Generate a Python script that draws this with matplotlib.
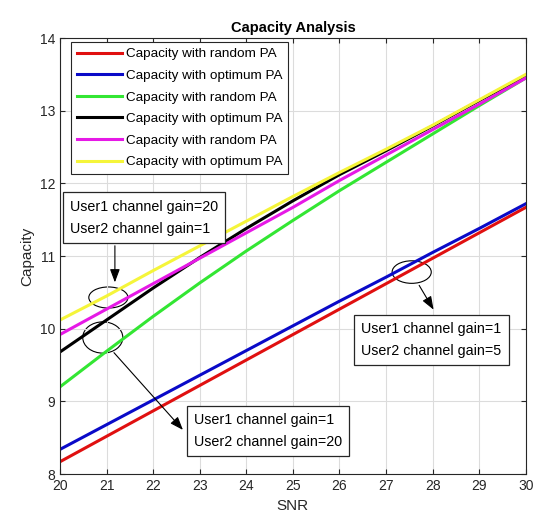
import numpy as np
import matplotlib.pyplot as plt
from matplotlib.patches import Ellipse

plt.rcParams['font.family'] = ['Liberation Sans', 'DejaVu Sans']

snr = [20, 21, 22, 23, 24, 25, 26, 27, 28, 29, 30]

# user1 gain=1, user2 gain=5
cap_rand_a = [8.17, 8.52, 8.87, 9.22, 9.57, 9.92, 10.27, 10.62, 10.97, 11.32, 11.67]
cap_opt_a = [8.34, 8.68, 9.02, 9.36, 9.70, 10.04, 10.38, 10.71, 11.05, 11.38, 11.72]
# user1 gain=1, user2 gain=20
cap_rand_b = [9.20, 9.69, 10.17, 10.63, 11.07, 11.49, 11.90, 12.29, 12.68, 13.07, 13.45]
cap_opt_b = [9.68, 10.12, 10.56, 10.98, 11.38, 11.76, 12.12, 12.45, 12.79, 13.14, 13.48]
# user1 gain=20, user2 gain=1
cap_rand_c = [9.92, 10.27, 10.62, 10.97, 11.32, 11.67, 12.04, 12.39, 12.74, 13.09, 13.45]
cap_opt_c = [10.12, 10.45, 10.80, 11.14, 11.48, 11.82, 12.15, 12.47, 12.80, 13.15, 13.50]

series = [
    (cap_rand_a, '#e01010', 'Capacity with random PA'),
    (cap_opt_a, '#0a0ac8', 'Capacity with optimum PA'),
    (cap_rand_b, '#33e633', 'Capacity with random PA'),
    (cap_opt_b, 'black', 'Capacity with optimum PA'),
    (cap_rand_c, '#e619e6', 'Capacity with random PA'),
    (cap_opt_c, '#f5f53a', 'Capacity with optimum PA'),
]

fig = plt.figure(figsize=(5.6, 5.28), dpi=100)
ax = fig.add_axes([0.107, 0.102, 0.832, 0.826])

for vals, col, lab in series:
    ax.plot(snr, vals, color=col, linewidth=2.2, label=lab)

ax.set_xlim(20, 30)
ax.set_ylim(8, 14)
ax.set_xticks(np.arange(20, 31, 1))
ax.set_yticks(np.arange(8, 15, 1))
ax.grid(True, color='#dcdcdc', linewidth=0.8)
ax.tick_params(direction='in', top=True, right=True, labelsize=10, colors='#262626')
for s in ax.spines.values():
    s.set_color('#262626')
    s.set_linewidth(0.8)

ax.set_title('Capacity Analysis', fontsize=10.5, fontweight='bold', pad=4)
ax.set_xlabel('SNR', fontsize=11, color='#262626')
ax.set_ylabel('Capacity', fontsize=11, color='#262626')

leg = ax.legend(loc='upper left', bbox_to_anchor=(0.024, 0.991), borderaxespad=0,
                fontsize=9.7, frameon=True, fancybox=False, framealpha=1,
                edgecolor='#262626', handlelength=3.3, handletextpad=0.3,
                labelspacing=0.68, borderpad=0.45)
leg.get_frame().set_linewidth(0.8)

# ellipses marking curve groups
for cx, cy, w, h in [(21.04, 10.43, 0.84, 0.29), (20.92, 9.88, 0.86, 0.43),
                     (27.55, 10.78, 0.84, 0.31)]:
    ax.add_patch(Ellipse((cx, cy), w, h, fill=False, edgecolor='black', linewidth=0.8))

box = dict(boxstyle='square,pad=0.5', facecolor='white', edgecolor='#262626', linewidth=0.9)
arrow = dict(arrowstyle='-|>,head_length=0.8,head_width=0.3', color='black', linewidth=0.8)

ax.text(21.8, 11.53, 'User1 channel gain=20\nUser2 channel gain=1', ha='center', va='center',
        multialignment='left', fontsize=10.3, linespacing=1.72, bbox=box, zorder=5)
ax.annotate('', xy=(21.18, 10.6), xytext=(21.18, 11.18), arrowprops=arrow)

ax.text(24.47, 8.59, 'User1 channel gain=1\nUser2 channel gain=20', ha='center', va='center',
        multialignment='left', fontsize=10.3, linespacing=1.72, bbox=box, zorder=5)
ax.annotate('', xy=(22.68, 8.58), xytext=(21.12, 9.7), arrowprops=arrow)

ax.text(27.97, 9.85, 'User1 channel gain=1\nUser2 channel gain=5', ha='center', va='center',
        multialignment='left', fontsize=10.3, linespacing=1.72, bbox=box, zorder=5)
ax.annotate('', xy=(28.05, 10.23), xytext=(27.68, 10.63), arrowprops=arrow)

fig.savefig('out.png', dpi=100)
